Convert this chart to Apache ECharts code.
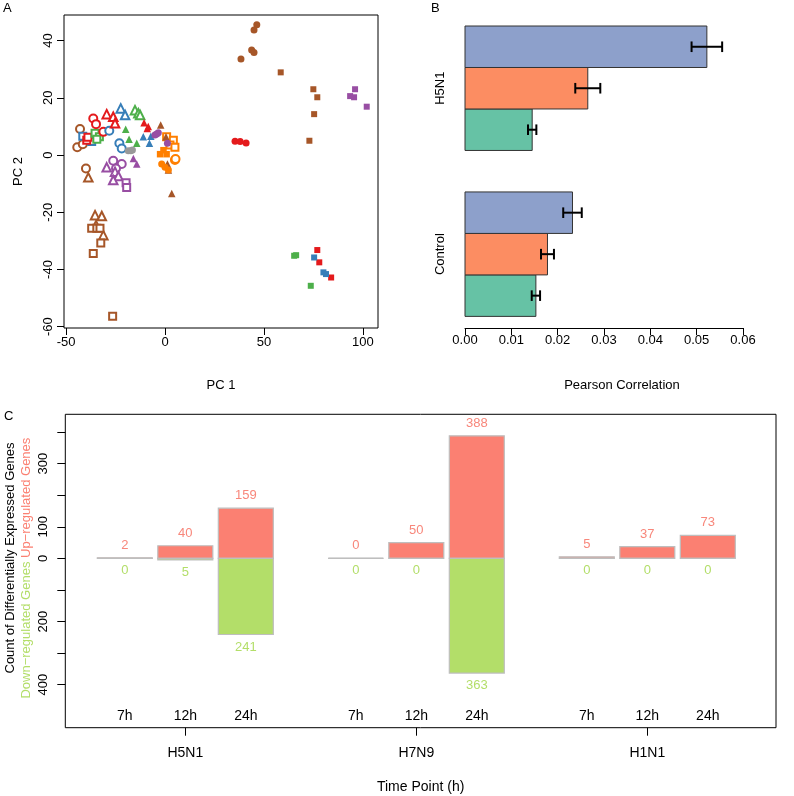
<!DOCTYPE html>
<html><head><meta charset="utf-8">
<script src="https://cdn.jsdelivr.net/npm/echarts@6/dist/echarts.min.js"></script>
<style>html,body{margin:0;padding:0;background:#fff}#c{width:794px;height:796px}</style>
</head><body><div id="c"></div>
<script>
// ---------- Panel A: PCA scores [PC1, PC2] ----------
const brownOpenCircle  = [[-43,9.1],[-44.4,2.7],[-41.6,3.8],[-40,-4.7]];
const blueOpenSquare   = [[-41.6,6.6],[-37.1,4.7]];
const redOpenSquare    = [[-39.6,5.2],[-39.0,6.2]];
const greenOpenSquare  = [[-35.4,7.6],[-33.2,6.4],[-34.5,5.5]];
const redOpenCircle    = [[-36.3,12.8],[-34.9,10.8],[-31.2,8.1]];
const blueOpenCircle   = [[-28.2,8.5],[-23.1,4.1],[-21.9,2.3]];
const redOpenTriangle  = [[-29.5,14.3],[-26.2,13.4],[-25.3,11.1]];
const blueOpenTriangle = [[-22.4,16.3],[-20.2,14]];
const greenOpenTriangle= [[-15.2,15.7],[-13.5,14.6],[-12.6,14]];
const purpleOpenCircle = [[-26.2,-2],[-21.9,-3.1],[-24.8,-4.7]];
const purpleOpenTriangle=[[-29.5,-4.3],[-25.3,-5.8],[-23.6,-7.3],[-26.2,-8.7]];
const purpleOpenSquare = [[-19.7,-9.7],[-19.4,-11.3]];
const brownOpenTriangle= [[-38.8,-7.8],[-35.4,-21],[-32,-21.3],[-34.9,-24.5],[-31.2,-28]];
const brownOpenSquare  = [[-37.1,-25.6],[-34.5,-25.6],[-32.9,-25.6],[-32.5,-30.7],[-36.3,-34.4],[-26.5,-56.3]];
const orangeOpenSquare = [[0.8,6.4],[4.2,5.2],[2.5,3.5],[5,2.7]];
const orangeOpenCircle = [[5,-1.7],[5.3,-1.4]];
const redFilledTriangle   = [[-10.6,11.3],[-9,9.3],[-8.5,10]];
const brownFilledTriangle = [[-2.2,10.5],[0.5,6.4],[1.2,-3.1],[1.7,-5.2],[3.4,-13.4]];
const greenFilledTriangle = [[-19.9,9],[-18.2,5.5],[-14.3,4.1]];
const blueFilledTriangle  = [[-11,6.4],[-7.2,6.6],[-7.9,4.1]];
const purpleFilledTriangle= [[-16,-1.2],[-14.3,-3.1]];
const purpleFilledCircle  = [[-5.1,7],[-4.2,7.4],[-3.4,7.8],[1.2,4.1]];
const greyFilledCircle    = [[-18.6,1.5],[-17.3,1.5],[-16.5,1.8]];
const orangeFilledSquare  = [[-0.8,1.7],[-2.5,0.3],[0.8,0.3]];
const orangeFilledCircle  = [[-1.7,-3.1],[0,-4.3],[1.7,-5.2]];
const redFilledCircle     = [[35.4,4.8],[38,4.7],[41,4.2]];
const brownFilledCircle   = [[46.4,45.5],[45,43.7],[43.8,36.7],[45,35.8],[38.4,33.6]];
const brownFilledSquare   = [[58.5,28.9],[75,23],[77,20.2],[75.4,14.3],[73,5]];
const purpleFilledSquare  = [[96.1,23],[93.6,20.6],[95.6,20.2],[102,16.9]];
const greenFilledSquare   = [[65.3,-35.2],[66.3,-35],[73.7,-45.7]];
const redFilledSquare     = [[77,-33.2],[78,-37.5],[84,-42.8]];
const blueFilledSquare    = [[75.4,-35.8],[80.1,-41],[81.4,-41.6]];
const ticksPC1 = [-50,0,50,100];
const ticksPC2 = [-60,-40,-20,0,20,40];

// ---------- Panel B: Pearson correlation ----------
const groupsB = ['Control','H5N1'];
const corrGreen  = [0.0153, 0.0145];
const errGreen   = [0.0009, 0.0009];
const corrOrange = [0.0178, 0.0265];
const errOrange  = [0.0014, 0.0027];
const corrBlue   = [0.0232, 0.0522];
const errBlue    = [0.0020, 0.0033];
const ticksCorr  = [0,0.01,0.02,0.03,0.04,0.05,0.06];

// ---------- Panel C: differentially expressed genes ----------
const strains = ['H5N1','H7N9','H1N1'];
const timePoints = ['7h','12h','24h'];
const upGenes   = [2,40,159, 0,50,388, 5,37,73];
const downGenes = [0,5,241, 0,0,363, 0,0,0];
const ticksCount = [-400,-300,-200,-100,0,100,200,300,400];
const labelsCount = [-400,-200,0,100,300];

const FONT = '"Liberation Sans", Arial, Helvetica, sans-serif';
const NARROW = '"Liberation Sans Narrow", "Liberation Sans", Arial, sans-serif';
const C = {red:'#E41A1C', blue:'#377EB8', green:'#4DAF4A', purple:'#984EA3', orange:'#FF7F00', brown:'#A65628', grey:'#999999'};

function sc(data, color, shape, filled, size){
  return {type:'scatter', xAxisIndex:0, yAxisIndex:0, data:data, silent:true,
    symbol: filled ? shape : 'empty' + shape.charAt(0).toUpperCase() + shape.slice(1),
    symbolSize: size,
    itemStyle: filled ? {color:color, opacity:1} : {color:color, borderColor:color, borderWidth:1.1, opacity:1}};
}
const scatterSeries = [
  sc(brownOpenCircle,C.brown,'circle',false,8), sc(blueOpenSquare,C.blue,'rect',false,7),
  sc(redOpenSquare,C.red,'rect',false,7), sc(greenOpenSquare,C.green,'rect',false,7),
  sc(redOpenCircle,C.red,'circle',false,8), sc(blueOpenCircle,C.blue,'circle',false,8),
  sc(redOpenTriangle,C.red,'triangle',false,8.5), sc(blueOpenTriangle,C.blue,'triangle',false,8.5),
  sc(greenOpenTriangle,C.green,'triangle',false,8.5), sc(purpleOpenCircle,C.purple,'circle',false,8),
  sc(purpleOpenTriangle,C.purple,'triangle',false,8.5), sc(purpleOpenSquare,C.purple,'rect',false,7),
  sc(brownOpenTriangle,C.brown,'triangle',false,8.5), sc(brownOpenSquare,C.brown,'rect',false,7),
  sc(orangeOpenSquare,C.orange,'rect',false,7), sc(orangeOpenCircle,C.orange,'circle',false,8),
  sc(redFilledTriangle,C.red,'triangle',true,7.5), sc(brownFilledTriangle,C.brown,'triangle',true,7.5),
  sc(greenFilledTriangle,C.green,'triangle',true,7.5), sc(blueFilledTriangle,C.blue,'triangle',true,7.5),
  sc(purpleFilledTriangle,C.purple,'triangle',true,7.5), sc(purpleFilledCircle,C.purple,'circle',true,7),
  sc(greyFilledCircle,C.grey,'circle',true,7), sc(orangeFilledSquare,C.orange,'rect',true,6.5),
  sc(orangeFilledCircle,C.orange,'circle',true,7), sc(redFilledCircle,C.red,'circle',true,7),
  sc(brownFilledCircle,C.brown,'circle',true,7), sc(brownFilledSquare,C.brown,'rect',true,6),
  sc(purpleFilledSquare,C.purple,'rect',true,6), sc(greenFilledSquare,C.green,'rect',true,6),
  sc(redFilledSquare,C.red,'rect',true,6), sc(blueFilledSquare,C.blue,'rect',true,6)
];

// Panel B custom bars with error bars
function corrSeries(vals, errs, color, slot){
  return {type:'custom', xAxisIndex:1, yAxisIndex:1, silent:true,
    data: vals.map((v,i)=>[v, i, errs[i]]),
    encode:{x:0, y:1},
    renderItem: function(params, api){
      const v = api.value(0), gi = api.value(1), e = api.value(2);
      const pos = gi*4 + 1.5 + slot;
      const a = api.coord([0, pos+0.5]), b = api.coord([v, pos-0.5]);
      const l = api.coord([v-e, pos]), r = api.coord([v+e, pos]);
      const cap = 5.3;
      return {type:'group', children:[
        {type:'rect', shape:{x:a[0], y:a[1], width:b[0]-a[0], height:b[1]-a[1]},
          style:{fill:color, stroke:'#333', lineWidth:1}},
        {type:'line', shape:{x1:l[0], y1:l[1], x2:r[0], y2:r[1]}, style:{stroke:'#000', lineWidth:2}},
        {type:'line', shape:{x1:l[0], y1:l[1]-cap, x2:l[0], y2:l[1]+cap}, style:{stroke:'#000', lineWidth:2}},
        {type:'line', shape:{x1:r[0], y1:r[1]-cap, x2:r[0], y2:r[1]+cap}, style:{stroke:'#000', lineWidth:2}}
      ]};
    }};
}

// Panel C positions (bar units, R barplot style layout)
function barCenter(i){ return 1.5 + Math.floor(i/3)*4.2 + (i%3)*1.1; }
const barCenters = upGenes.map((_,i)=>barCenter(i));
const groupCenters = strains.map((_,g)=>barCenter(g*3+1));

const degSeries = {type:'custom', xAxisIndex:2, yAxisIndex:2, silent:true,
  data: upGenes.map((u,i)=>[barCenter(i), u, downGenes[i]]),
  encode:{x:0, y:1},
  renderItem: function(params, api){
    const c = api.value(0), u = api.value(1), d = api.value(2);
    const z0 = api.coord([c-0.5, 0]), u1 = api.coord([c+0.5, u]), d1 = api.coord([c+0.5, -d]);
    const mid = api.coord([c, 0])[0];
    return {type:'group', children:[
      {type:'rect', shape:{x:z0[0], y:z0[1], width:u1[0]-z0[0], height:0}, style:{fill:'none', stroke:'#BEBEBE', lineWidth:1.2}},
      {type:'rect', shape:{x:z0[0], y:u1[1], width:u1[0]-z0[0], height:z0[1]-u1[1]}, style:{fill:'#FB8072', stroke:'#BEBEBE', lineWidth:1.2}},
      {type:'rect', shape:{x:z0[0], y:z0[1], width:d1[0]-z0[0], height:d1[1]-z0[1]}, style:{fill:'#B3DE69', stroke:'#BEBEBE', lineWidth:1.2}},
      {type:'text', x:mid, y:u1[1]-12.5, style:{text:String(u), fill:'#F8877B', fontSize:13, fontFamily:FONT, align:'center', verticalAlign:'middle'}},
      {type:'text', x:mid, y:d1[1]+12.5, style:{text:String(d), fill:'#B3DE69', fontSize:13, fontFamily:FONT, align:'center', verticalAlign:'middle'}}
    ]};
  }};

const txt = {color:'#000', fontSize:13, fontFamily:FONT};
const noLine = {show:false, onZero:false};

const option = {
  animation:false,
  backgroundColor:'#fff',
  grid:[
    {left:64, top:15, width:314, height:313, show:true, borderColor:'#000', borderWidth:1, backgroundColor:'transparent'},
    {left:465, top:14.4, width:278, height:313.6},
    {left:65.3, top:414.3, width:710.7, height:313.4, show:true, borderColor:'#000', borderWidth:1, backgroundColor:'transparent'}
  ],
  xAxis:[
    {gridIndex:0, type:'value', min:-51.1, max:107.7, splitLine:{show:false},
      axisLine:noLine, axisTick:{show:true, length:7, customValues:ticksPC1, lineStyle:{color:'#000'}},
      axisLabel:Object.assign({customValues:ticksPC1, margin:8}, txt),
      name:'PC 1', nameLocation:'middle', nameGap:51, nameTextStyle:txt},
    {gridIndex:1, type:'value', min:0, max:0.06, splitLine:{show:false},
      axisLine:{show:true, onZero:false, lineStyle:{color:'#000', width:1}},
      axisTick:{show:true, length:7, customValues:ticksCorr, lineStyle:{color:'#000'}},
      axisLabel:Object.assign({customValues:ticksCorr, margin:6, formatter:v=>v.toFixed(2)}, txt),
      name:'Pearson Correlation', nameLocation:'middle', nameGap:51,
      nameTextStyle:Object.assign({padding:[0,0,0,36]}, txt)},
    {gridIndex:2, type:'value', min:0.418, max:13.34, splitLine:{show:false},
      axisLine:noLine, axisTick:{show:true, length:8, customValues:groupCenters, lineStyle:{color:'#000'}},
      axisLabel:{customValues:groupCenters, margin:18, color:'#000', fontSize:14, fontFamily:NARROW,
        formatter:(v)=>strains[groupCenters.findIndex(g=>Math.abs(g-v)<0.01)]},
      name:'Time Point (h)', nameLocation:'middle', nameGap:52,
      nameTextStyle:{color:'#000', fontSize:14, fontFamily:NARROW}},
    {gridIndex:2, type:'value', min:0.418, max:13.34, position:'bottom', splitLine:{show:false},
      axisLine:noLine, axisTick:{show:false},
      axisLabel:{customValues:barCenters, inside:true, margin:5, color:'#000', fontSize:14, fontFamily:NARROW,
        formatter:(v)=>timePoints[barCenters.findIndex(g=>Math.abs(g-v)<0.01)%3]}}
  ],
  yAxis:[
    {gridIndex:0, type:'value', min:-60.45, max:48.95, splitLine:{show:false},
      axisLine:noLine, axisTick:{show:true, length:7, customValues:ticksPC2, lineStyle:{color:'#000'}},
      axisLabel:Object.assign({customValues:ticksPC2, margin:9, rotate:90}, txt),
      name:'PC 2', nameLocation:'middle', nameGap:39, nameTextStyle:txt},
    {gridIndex:1, type:'value', min:0.72, max:8.28, splitLine:{show:false},
      axisLine:noLine, axisTick:{show:false},
      axisLabel:Object.assign({customValues:[2.5,6.5], margin:18, rotate:90,
        formatter:(v)=>groupsB[Math.round((v-2.5)/4)]}, txt)},
    {gridIndex:2, type:'value', min:-536, max:456, splitLine:{show:false},
      axisLine:noLine, axisTick:{show:true, length:8, customValues:ticksCount, lineStyle:{color:'#000'}},
      axisLabel:Object.assign({customValues:labelsCount, margin:15, rotate:90, formatter:(v)=>String(Math.abs(v))}, txt)}
  ],
  graphic:[
    {type:'text', x:3, y:2, style:{text:'A', fontSize:13, fontFamily:FONT, fill:'#000'}},
    {type:'text', x:431, y:2, style:{text:'B', fontSize:13, fontFamily:FONT, fill:'#000'}},
    {type:'text', x:4, y:410, style:{text:'C', fontSize:13, fontFamily:FONT, fill:'#000'}},
    {type:'text', x:10, y:558, rotation:Math.PI/2,
      style:{text:'Count of Differentially Expressed Genes', fontSize:13, fontFamily:FONT, fill:'#000', align:'center', verticalAlign:'middle'}},
    {type:'text', x:26, y:558, rotation:Math.PI/2,
      style:{text:'Up\u2212regulated Genes', fontSize:13, fontFamily:FONT, fill:'#FB8072', align:'left', verticalAlign:'middle'}},
    {type:'text', x:26, y:558, rotation:Math.PI/2,
      style:{text:'Down\u2212regulated Genes ', fontSize:13, fontFamily:FONT, fill:'#B3DE69', align:'right', verticalAlign:'middle'}}
  ],
  series: scatterSeries.concat([
    corrSeries(corrGreen, errGreen, '#66C2A5', 0),
    corrSeries(corrOrange, errOrange, '#FC8D62', 1),
    corrSeries(corrBlue, errBlue, '#8DA0CB', 2),
    degSeries
  ])
};
const chart = echarts.init(document.getElementById('c'));
chart.setOption(option);
</script></body></html>
